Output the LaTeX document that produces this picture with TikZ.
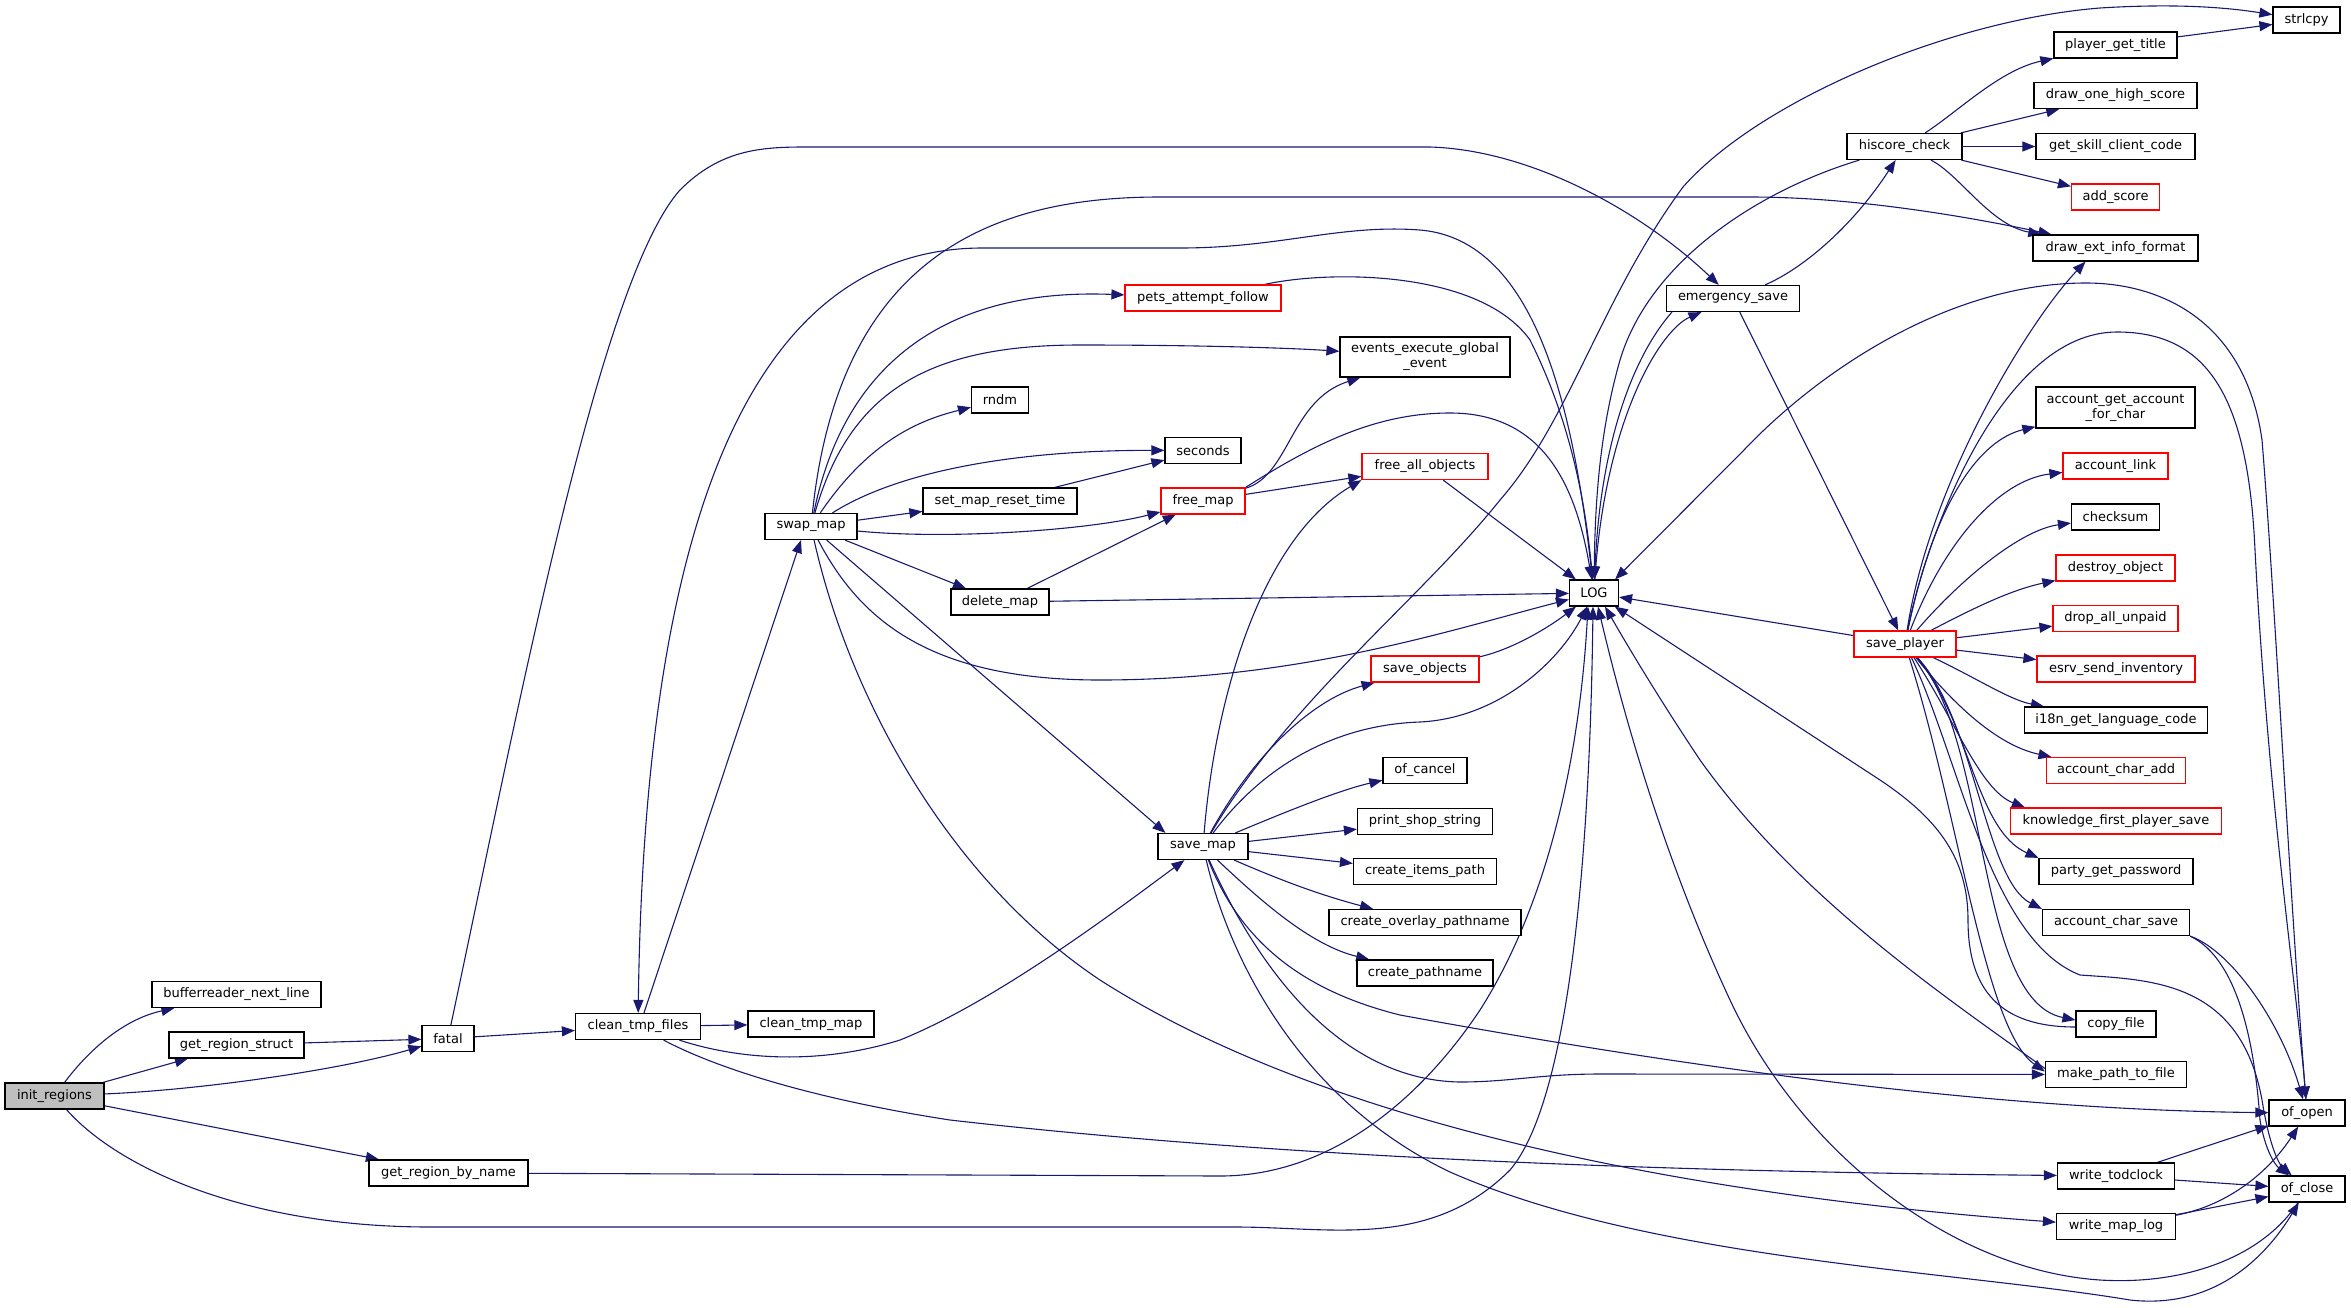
\documentclass[tikz,border=0pt]{standalone}
\usepackage{fontspec}
\setmainfont{DejaVu Sans}
\usetikzlibrary{arrows.meta}
\definecolor{edgec}{RGB}{25,25,112}
\definecolor{nodegray}{RGB}{191,191,191}
\pgfdeclarelayer{edges}
\pgfsetlayers{edges,main}
\begin{document}
\begin{tikzpicture}[x=1pt,y=-1pt,
  box/.style={draw=black,line width=1.2pt,fill=white,inner sep=0pt,minimum height=26pt,font=\fontsize{13}{15}\selectfont,align=center},
  rbox/.style={box,draw=red},
  e/.style={draw=edgec,line width=1.1pt,-{Triangle[length=13pt,width=10pt]}}
]
\useasboundingbox (0,0) rectangle (2351,1307);
% nodes
\node[box,fill=nodegray,minimum width=99pt] (init) at (54.5,1096) {init\_regions};
\node[box,minimum width=169pt] (bnl) at (236.5,994.5) {bufferreader\_next\_line};
\node[box,minimum width=135pt] (grs) at (236.5,1045) {get\_region\_struct};
\node[box,minimum width=52pt] (fatal) at (448,1038.5) {fatal};
\node[box,minimum width=159pt] (grbn) at (448.5,1173) {get\_region\_by\_name};
\node[box,minimum width=125pt] (ctf) at (638,1026.5) {clean\_tmp\_files};
\node[box,minimum width=126pt] (ctm) at (811,1024) {clean\_tmp\_map};
\node[box,minimum width=92pt] (swap) at (811,526.5) {swap\_map};
\node[rbox,minimum width=156pt] (pets) at (1203,298) {pets\_attempt\_follow};
\node[box,minimum width=170pt,minimum height=40pt] (eeg) at (1425,357) {events\_execute\_global\\\_event};
\node[box,minimum width=57pt] (rndm) at (1000,400) {rndm};
\node[box,minimum width=76pt] (secs) at (1203,450.5) {seconds};
\node[box,minimum width=154pt] (smrt) at (1000,501) {set\_map\_reset\_time};
\node[rbox,minimum width=84pt] (fmap) at (1203,501) {free\_map};
\node[rbox,minimum width=126pt] (fao) at (1425,466.5) {free\_all\_objects};
\node[box,minimum width=98pt] (dmap) at (1000,602) {delete\_map};
\node[rbox,minimum width=108pt] (sobj) at (1425,669) {save\_objects};
\node[box,minimum width=84pt] (ofc) at (1425,770.5) {of\_cancel};
\node[box,minimum width=135pt] (pss) at (1425,821.5) {print\_shop\_string};
\node[box,minimum width=143pt] (cip) at (1425,871.5) {create\_items\_path};
\node[box,minimum width=192pt] (cop) at (1425,922.5) {create\_overlay\_pathname};
\node[box,minimum width=136pt] (cpn) at (1425,973) {create\_pathname};
\node[box,minimum width=90pt] (smap) at (1203,846.5) {save\_map};
\node[box,minimum width=49pt] (logn) at (1594,593) {LOG};
\node[box,minimum width=67pt] (strl) at (2306.5,20) {strlcpy};
\node[box,minimum width=123pt] (pgt) at (2115.5,45) {player\_get\_title};
\node[box,minimum width=163pt] (dohs) at (2115.5,95.5) {draw\_one\_high\_score};
\node[box,minimum width=115pt] (hc) at (1904.5,146.5) {hiscore\_check};
\node[box,minimum width=159pt] (gscc) at (2115.5,146.5) {get\_skill\_client\_code};
\node[rbox,minimum width=88pt] (adds) at (2115.5,197) {add\_score};
\node[box,minimum width=165pt] (deif) at (2115.5,248) {draw\_ext\_info\_format};
\node[box,minimum width=133pt] (es) at (1733,298.5) {emergency\_save};
\node[box,minimum width=159pt,minimum height=41pt] (agafc) at (2115.5,407.5) {account\_get\_account\\\_for\_char};
\node[rbox,minimum width=105pt] (al) at (2115.5,466) {account\_link};
\node[box,minimum width=88pt] (cs) at (2115.5,517) {checksum};
\node[rbox,minimum width=119pt] (dobj) at (2115.5,568) {destroy\_object};
\node[rbox,minimum width=125pt] (daup) at (2115.5,618.5) {drop\_all\_unpaid};
\node[rbox,minimum width=102pt] (sp) at (1905,644) {save\_player};
\node[rbox,minimum width=158pt] (esi) at (2116,669) {esrv\_send\_inventory};
\node[box,minimum width=183pt] (i18n) at (2116,720) {i18n\_get\_language\_code};
\node[rbox,minimum width=139pt] (aca) at (2116,770.5) {account\_char\_add};
\node[rbox,minimum width=211pt] (kfps) at (2116,821) {knowledge\_first\_player\_save};
\node[box,minimum width=154pt] (pgp) at (2116,871.5) {party\_get\_password};
\node[box,minimum width=147pt] (acs) at (2116,922.5) {account\_char\_save};
\node[box,minimum width=80pt] (cf) at (2116,1024) {copy\_file};
\node[box,minimum width=141pt] (mptf) at (2116,1074.5) {make\_path\_to\_file};
\node[box,minimum width=76pt] (oo) at (2307,1113) {of\_open};
\node[box,minimum width=117pt] (wtc) at (2116,1176) {write\_todclock};
\node[box,minimum width=76pt] (oc) at (2307,1189) {of\_close};
\node[box,minimum width=119pt] (wml) at (2116,1226.5) {write\_map\_log};
% edges
\begin{pgfonlayer}{edges}
\draw[e] (init) .. controls (85,1055) and (120,1020) .. (bnl);
\draw[e] (init) -- (grs);
\draw[e] (init) .. controls (200,1090) and (340,1070) .. (fatal);
\draw[e] (grs) -- (fatal);
\draw[e] (init) -- (grbn);
\draw[e] (init) .. controls (120,1170) and (250,1227) .. (430,1227) -- (1236,1227) .. controls (1330,1227) and (1430,1250) .. (1510,1170) .. controls (1570,1100) and (1590,850) .. ([xshift=-1pt]logn.south);
\draw[e] (grbn) -- (1220,1176) .. controls (1330,1176) and (1420,1100) .. (1480,1010) .. controls (1550,900) and (1580,750) .. ([xshift=-6pt]logn.south);
\draw[e] (fatal) -- (ctf);
\draw[e] (fatal) .. controls (520,700) and (600,280) .. (680,190) .. controls (720,150) and (760,147) .. (805,147) -- (1430,147) .. controls (1530,150) and (1640,210) .. (es);
\draw[e] (ctf) -- (ctm);
\draw[e] ([xshift=6pt]ctf.north) -- ([xshift=-10pt]swap.south);
\draw[e] (logn) .. controls (1575,420) and (1540,240) .. (1420,230) .. controls (1340,224) and (1280,248) .. (1180,248) -- (980,248) .. controls (760,250) and (645,500) .. (ctf);
\draw[e] (ctf) .. controls (740,1060) and (820,1065) .. (900,1040) .. controls (1000,1000) and (1130,900) .. (smap);
\draw[e] (ctf) .. controls (720,1070) and (820,1100) .. (950,1120) .. controls (1300,1160) and (1700,1172) .. (wtc);
% swap_map
\draw[e] (swap) .. controls (840,250) and (1000,197) .. (1160,197) -- (1750,197) .. controls (1850,197) and (1960,215) .. (deif);
\draw[e] (swap) .. controls (845,360) and (950,288) .. (pets);
\draw[e] (swap) .. controls (850,390) and (930,345) .. (1080,345) .. controls (1200,345) and (1290,348) .. (eeg);
\draw[e] (swap) .. controls (870,440) and (920,420) .. (rndm);
\draw[e] (swap) .. controls (900,470) and (1020,450) .. (secs);
\draw[e] (swap) -- (smrt);
\draw[e] (swap) .. controls (950,540) and (1090,530) .. (fmap);
\draw[e] (swap) -- (dmap);
\draw[e] (swap) .. controls (860,620) and (930,680) .. (1100,680) .. controls (1300,680) and (1450,630) .. (logn);
\draw[e] (swap) -- ([xshift=8pt]smap.north west);
\draw[e] (swap) .. controls (850,700) and (950,880) .. (1100,980) .. controls (1350,1140) and (1750,1200) .. (wml);
\draw[e] (smrt) -- (secs);
\draw[e] (dmap) -- (fmap);
\draw[e] (dmap) -- (logn);
\draw[e] (fmap) .. controls (1290,475) and (1290,400) .. (eeg);
\draw[e] (fmap) -- (fao);
\draw[e] (fmap.north east) .. controls (1320,440) and (1380,413) .. (1450,413) .. controls (1540,413) and (1575,480) .. (logn);
\draw[e] (fao) -- (logn);
\draw[e] (pets) .. controls (1330,270) and (1480,270) .. (1530,340) .. controls (1570,420) and (1585,500) .. (logn);
% save_map
\draw[e] (smap) .. controls (1215,700) and (1260,540) .. (fao.south west);
\draw[e] (smap) .. controls (1250,760) and (1310,700) .. (sobj);
\draw[e] (smap) .. controls (1260,770) and (1330,725) .. (1420,722) .. controls (1500,718) and (1560,660) .. (logn);
\draw[e] (smap) .. controls (1290,700) and (1420,600) .. (1500,500) .. controls (1570,420) and (1600,300) .. (1683,187) .. controls (1760,100) and (1950,20) .. (2100,8) .. controls (2180,3) and (2230,8) .. (strl);
\draw[e] (smap) .. controls (1290,810) and (1340,790) .. (ofc);
\draw[e] (smap) -- (pss);
\draw[e] (smap) -- (cip);
\draw[e] (smap) .. controls (1280,880) and (1320,895) .. (cop);
\draw[e] (smap) .. controls (1260,900) and (1310,945) .. (cpn);
\draw[e] (smap) .. controls (1250,950) and (1330,1080) .. (1460,1082) .. controls (1510,1082) and (1540,1074) .. (1600,1074) -- (mptf);
\draw[e] (smap) .. controls (1240,940) and (1300,990) .. (1400,1015) .. controls (1700,1070) and (2000,1110) .. (oo);
\draw[e] (smap) .. controls (1230,960) and (1300,1100) .. (1450,1172) .. controls (1650,1260) and (1950,1270) .. (2130,1300) .. controls (2220,1310) and (2270,1250) .. (oc);
\draw[e] (sobj) .. controls (1510,650) and (1545,630) .. (logn);
% emergency_save, hiscore_check
\draw[e] (logn) .. controls (1605,420) and (1660,330) .. (es);
\draw[e] ([xshift=6pt]es.south west) .. controls (1630,360) and (1600,450) .. (logn);
\draw[e] (es) .. controls (1800,270) and (1850,230) .. (hc);
\draw[e] (es) -- (sp);
\draw[e] (hc) .. controls (1760,190) and (1650,260) .. (1620,360) .. controls (1600,430) and (1595,500) .. (logn);
\draw[e] (hc) .. controls (1960,110) and (2000,70) .. (pgt);
\draw[e] (hc) -- (dohs);
\draw[e] (hc) -- (gscc);
\draw[e] (hc) -- (adds);
\draw[e] (hc) .. controls (1960,175) and (1990,225) .. (deif);
\draw[e] (pgt) -- (strl);
% save_player
\draw[e] (sp) -- (logn);
\draw[e] (sp) .. controls (1930,480) and (2030,320) .. ([xshift=-30pt]deif.south);
\draw[e] (sp) .. controls (1935,500) and (1980,440) .. (agafc);
\draw[e] (sp) .. controls (1945,540) and (2000,480) .. (al);
\draw[e] (sp) .. controls (1960,580) and (2020,530) .. (cs);
\draw[e] (sp) .. controls (1970,610) and (2010,590) .. (dobj);
\draw[e] (sp) -- (daup);
\draw[e] (sp) -- (esi);
\draw[e] (sp) .. controls (1980,680) and (2010,700) .. (i18n);
\draw[e] (sp) .. controls (1950,700) and (1995,745) .. (aca);
\draw[e] (sp) .. controls (1955,720) and (1980,790) .. ([xshift=15pt]kfps.north west);
\draw[e] (sp) .. controls (1970,720) and (1975,830) .. (pgp.north west);
\draw[e] (sp) .. controls (1975,720) and (1985,880) .. (acs.north west);
\draw[e] (sp) .. controls (1990,740) and (1975,1000) .. ([yshift=4pt]cf.west);
\draw[e] (sp) .. controls (1960,820) and (1985,1030) .. ([yshift=3pt]mptf.west);
\draw[e] (sp) .. controls (1960,760) and (1990,940) .. (2080,975) .. controls (2150,980) and (2240,980) .. (2262,1100) .. controls (2270,1150) and (2280,1165) .. (oc);
\draw[e] (sp) .. controls (1925,540) and (2000,332) .. (2117,332) .. controls (2210,332) and (2248,400) .. (2255,550) .. controls (2268,800) and (2298,1000) .. (oo);
\draw[e] (oo) .. controls (2290,900) and (2275,600) .. (2262,440) .. controls (2245,320) and (2160,283) .. (2086,283) .. controls (1950,283) and (1820,370) .. (1744,450) -- ([xshift=-4pt]logn.north east);
\draw[e] (acs.south east) .. controls (2230,950) and (2280,1020) .. (oo);
\draw[e] (acs.south east) .. controls (2240,960) and (2255,1050) .. (2260,1120) .. controls (2265,1150) and (2275,1165) .. (oc);
\draw[e] (wtc) -- (oo);
\draw[e] (wtc) -- (oc);
\draw[e] (wml) -- (oc);
\draw[e] (wml) .. controls (2230,1205) and (2270,1170) .. (oo);
\draw[e] (oc) .. controls (2260,1260) and (2180,1285) .. (2100,1280) .. controls (1950,1270) and (1800,1150) .. (1730,1000) .. controls (1660,850) and (1620,700) .. ([xshift=4pt]logn.south);
\draw[e] ([yshift=-3pt]cf.west) .. controls (2000,1027) and (1968,990) .. (1968,920) .. controls (1968,860) and (1940,820) .. (1880,780) -- (logn);
\draw[e] ([yshift=6pt]mptf.west) .. controls (1950,1000) and (1800,900) .. (1700,760) .. controls (1660,700) and (1630,650) .. ([xshift=11pt]logn.south);
\end{pgfonlayer}
\end{tikzpicture}
\end{document}
